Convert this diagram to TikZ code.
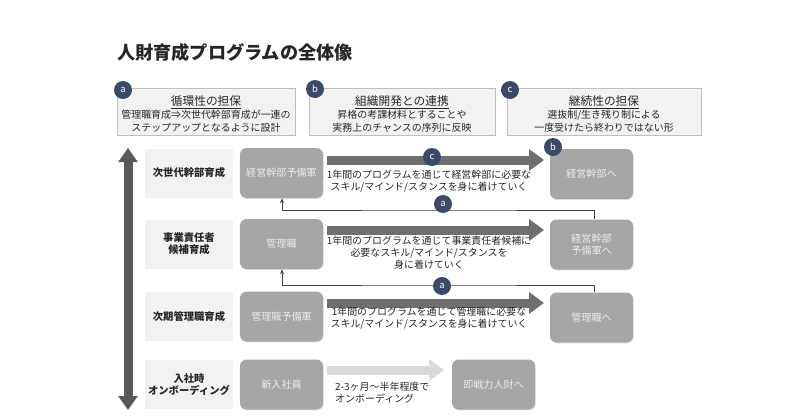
\documentclass[tikz,border=0pt]{standalone}
\usepackage{fontspec}
\setmainfont{Noto Sans CJK JP}
\usetikzlibrary{arrows.meta,shadows}
\definecolor{txt}{HTML}{262626}
\definecolor{lightbg}{HTML}{F2F2F2}
\definecolor{topline}{HTML}{BFBFBF}
\definecolor{stagegray}{HTML}{A6A6A6}
\definecolor{stagetext}{HTML}{EAEAEA}
\definecolor{navy}{HTML}{3B4A66}
\definecolor{arrowgray}{HTML}{6F6F6F}
\definecolor{lightarrow}{HTML}{D9D9D9}
\definecolor{vgray}{HTML}{595959}
\definecolor{linegray}{HTML}{404040}
\begin{document}
\begin{tikzpicture}[x=0.03cm,y=-0.03cm,
  every node/.style={inner sep=0pt, text=txt},
  topbox/.style={draw=topline, line width=0.6pt, fill=lightbg, minimum height=1.41cm},
  toptext/.style={align=center, font=\fontsize{8.5}{11}\selectfont, text=txt},
  rowlabel/.style={fill=lightbg, minimum width=2.64cm, minimum height=1.47cm, align=center, font=\bfseries\fontsize{8.8}{10.2}\selectfont},
  stage/.style={fill=stagegray, rounded corners=0.2cm, minimum width=2.49cm, minimum height=1.5cm, align=center, text=stagetext, font=\fontsize{8.6}{10}\selectfont, drop shadow={shadow xshift=0.6pt, shadow yshift=-0.8pt, opacity=0.25}},
  badge/.style={circle, fill=navy, minimum size=0.54cm, text=white, font=\fontsize{8}{8}\selectfont},
  blockarrow/.style={line width=0.27cm, draw=#1, -{Triangle[length=0.45cm, width=0.63cm]}},
  note/.style={align=center, font=\fontsize{8.5}{10.4}\selectfont},
  feedback/.style={draw=linegray, line width=0.6pt, -{Stealth[length=0.15cm, width=0.12cm]}}
]
\useasboundingbox (0,0) rectangle (800,417);

% title
\node[anchor=west, font=\bfseries\fontsize{15.5}{18}\selectfont] (title) at (117,53) {人財育成プログラムの全体像};

% top boxes
\node[topbox, minimum width=5.34cm] (A) at (206,111.5) {};
\node[toptext] (At) at (206,114) {{\fontsize{10}{12}\selectfont\underline{循環性の担保}}\\管理職育成⇒次世代幹部育成が一連の\\ステップアップとなるように設計};
\node[topbox, minimum width=5.58cm] (B) at (402,111.5) {};
\node[toptext] (Bt) at (402,114) {{\fontsize{10}{12}\selectfont\underline{組織開発との連携}}\\昇格の考課材料とすることや\\実務上のチャンスの序列に反映};
\node[topbox, minimum width=5.82cm] (C) at (604,111.5) {};
\node[toptext] (Ct) at (604,114) {{\fontsize{10}{12}\selectfont\underline{継続性の担保}}\\選抜制/生き残り制による\\一度受けたら終わりではない形};
\node[badge] (ba) at (123,90) {a};
\node[badge] (bb) at (315,89) {b};
\node[badge] (bc) at (510,90) {c};

% vertical double arrow
\coordinate (vtop) at (128,148);
\coordinate (vbot) at (128,410);
\draw[line width=0.27cm, draw=vgray, {Triangle[length=0.42cm, width=0.56cm]}-{Triangle[length=0.42cm, width=0.56cm]}] (vtop) -- (vbot);

% row labels
\node[rowlabel] (L1) at (189,173) {次世代幹部育成};
\node[rowlabel] (L2) at (189,244) {事業責任者\\候補育成};
\node[rowlabel] (L3) at (189,316.5) {次期管理職育成};
\node[rowlabel] (L4) at (189,384.5) {入社時\\オンボーディング};

% stages left
\node[stage] (G1) at (281.5,173) {経営幹部予備軍};
\node[stage] (G2) at (281.5,244) {管理職};
\node[stage] (G3) at (281.5,316.5) {管理職予備軍};
\node[stage] (G4) at (281.5,384.5) {新入社員};

% stages right
\node[stage] (R1) at (591.5,174) {経営幹部へ};
\node[stage] (R2) at (591.5,244.5) {経営幹部\\予備軍へ};
\node[stage] (R3) at (591.5,317.5) {管理職へ};
\node[stage] (R4) at (493.5,384.5) {即戦力人財へ};

% block arrows
\coordinate (s1) at (327,160); \coordinate (e1) at (544,160);
\coordinate (s2) at (327,230); \coordinate (e2) at (544,230);
\coordinate (s3) at (327,303); \coordinate (e3) at (544,303);
\coordinate (s4) at (327,370); \coordinate (e4) at (444,370);
\draw[blockarrow=arrowgray] (s1) -- (e1);
\draw[blockarrow=arrowgray] (s2) -- (e2);
\draw[blockarrow=arrowgray] (s3) -- (e3);
\draw[blockarrow=lightarrow] (s4) -- (e4);

% arrow notes
\node[note] (n1) at (429,181) {1年間のプログラムを通じて経営幹部に必要な\\スキル/マインド/スタンスを身に着けていく};
\node[note] (n2) at (429,253) {1年間のプログラムを通じて事業責任者候補に\\必要なスキル/マインド/スタンスを\\身に着けていく};
\node[note] (n3) at (429,318) {1年間のプログラムを通じて管理職に必要な\\スキル/マインド/スタンスを身に着けていく};
\node[note, align=left, anchor=west] (n4) at (335,393) {2-3ヶ月～半年程度で\\オンボーディング};

% feedback connectors
\coordinate (f1) at (440,210);
\coordinate (f2) at (440,285);
\draw[feedback] ([xshift=0.075cm]R2.north) |- (f1) -| ([xshift=0.015cm]G1.south);
\draw[feedback] ([xshift=0.075cm]R3.north) |- (f2) -| ([xshift=0.015cm]G2.south);

% badges on flow
\node[badge] (bc2) at (432,157) {c};
\node[badge] (bb2) at (553,147) {b};
\node[badge] (ba2) at (443,204) {a};
\node[badge] (ba3) at (442,286) {a};
\end{tikzpicture}
\end{document}
